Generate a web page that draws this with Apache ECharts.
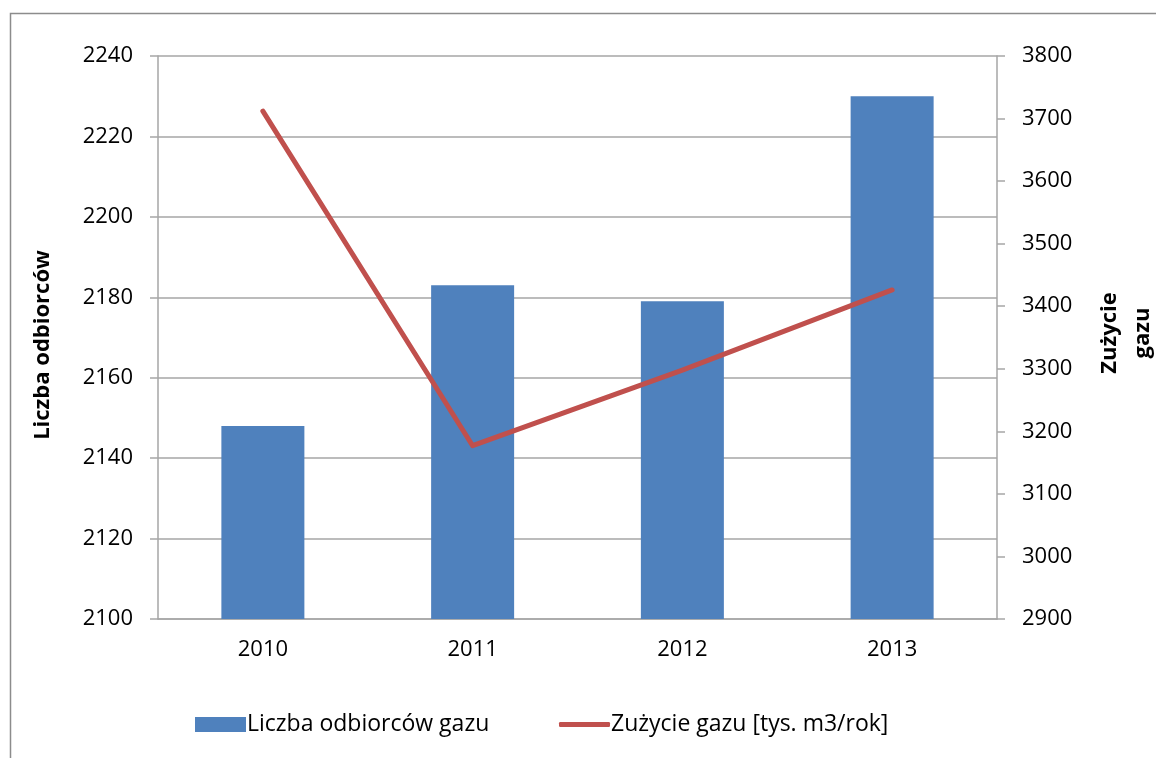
<!DOCTYPE html>
<html><head><meta charset="utf-8">
<script src="https://cdn.jsdelivr.net/npm/echarts@6/dist/echarts.min.js"></script>
<style>html,body{margin:0;padding:0;background:#fff}#c{width:1156px;height:758px}</style>
</head><body><div id="c"></div>
<script>
const categories = ['2010', '2011', '2012', '2013'];
const odbiorcy = [2148, 2183, 2179, 2230];
const zuzycie = [3712, 3177, 3298, 3426];
const leftTicks = { min: 2100, max: 2240, interval: 20 };
const rightTicks = { min: 2900, max: 3800, interval: 100 };
const seriesNames = ['Liczba odbiorców gazu', 'Zużycie gazu [tys. m3/rok]'];
const leftTitle = 'Liczba odbiorców';
const rightTitle = ['Zużycie', 'gazu'];

const FONT = '"Open Sans", "Noto Sans", sans-serif';
const chart = echarts.init(document.getElementById('c'), null, { renderer: 'canvas' });
const gridColor = '#a6a6a6';
const fmt = v => String(v);
chart.setOption({
  animation: false,
  textStyle: { fontFamily: FONT },
  grid: { left: 158, right: 159, top: 56, bottom: 139 },
  legend: [
    {
      top: 708, left: 190,
      itemWidth: 51, itemHeight: 15,
      textStyle: { fontSize: 23, color: '#000', fontFamily: FONT, padding: [0, 0, 0, -4] },
      data: [{ name: seriesNames[0], icon: 'rect' }]
    },
    {
      top: 708, left: 554,
      itemWidth: 51, itemHeight: 5,
      textStyle: { fontSize: 23, color: '#000', fontFamily: FONT, padding: [0, 0, 0, -4] },
      data: [{ name: seriesNames[1], icon: 'roundRect', itemStyle: { color: '#C0504D' } }]
    }
  ],
  xAxis: {
    type: 'category', data: categories,
    axisLine: { lineStyle: { color: gridColor, width: 1.5 } },
    axisTick: { show: false },
    axisLabel: { fontSize: 22, color: '#000', margin: 20, fontFamily: FONT }
  },
  yAxis: [
    {
      type: 'value', min: leftTicks.min, max: leftTicks.max, interval: leftTicks.interval,
      axisLine: { show: true, lineStyle: { color: gridColor, width: 1.5 } },
      axisTick: { show: true, length: 8, lineStyle: { color: gridColor, width: 1.5 } },
      splitLine: { lineStyle: { color: gridColor, width: 1.5 } },
      axisLabel: { fontSize: 22, color: '#000', margin: 25, fontFamily: FONT, formatter: fmt }
    },
    {
      type: 'value', min: rightTicks.min, max: rightTicks.max, interval: rightTicks.interval,
      position: 'right',
      axisLine: { show: true, lineStyle: { color: gridColor, width: 1.5 } },
      axisTick: { show: true, length: 8, lineStyle: { color: gridColor, width: 1.5 } },
      splitLine: { show: false },
      axisLabel: { fontSize: 22, color: '#000', margin: 25, fontFamily: FONT, formatter: fmt }
    }
  ],
  series: [
    {
      name: seriesNames[0], type: 'bar', data: odbiorcy, yAxisIndex: 0,
      barWidth: 83, itemStyle: { color: '#4F81BD' }
    },
    {
      name: seriesNames[1], type: 'line', data: zuzycie, yAxisIndex: 1,
      showSymbol: false, symbol: 'none',
      lineStyle: { color: '#C0504D', width: 5, cap: 'round', join: 'round' },
      itemStyle: { color: '#C0504D' }
    }
  ],
  graphic: [
    { type: 'rect', shape: { x: 10.5, y: 13.5, width: 1160, height: 800 }, style: { fill: 'none', stroke: '#8c8c8c', lineWidth: 1.5 }, silent: true },
    { type: 'text', x: 43, y: 345, rotation: Math.PI / 2, style: { text: leftTitle, font: 'bold 22px ' + FONT, fill: '#000', align: 'center', verticalAlign: 'middle' } },
    { type: 'text', x: 1110, y: 333, rotation: Math.PI / 2, style: { text: rightTitle[0], font: 'bold 22px ' + FONT, fill: '#000', align: 'center', verticalAlign: 'middle' } },
    { type: 'text', x: 1143, y: 333, rotation: Math.PI / 2, style: { text: rightTitle[1], font: 'bold 22px ' + FONT, fill: '#000', align: 'center', verticalAlign: 'middle' } }
  ]
});
</script></body></html>
